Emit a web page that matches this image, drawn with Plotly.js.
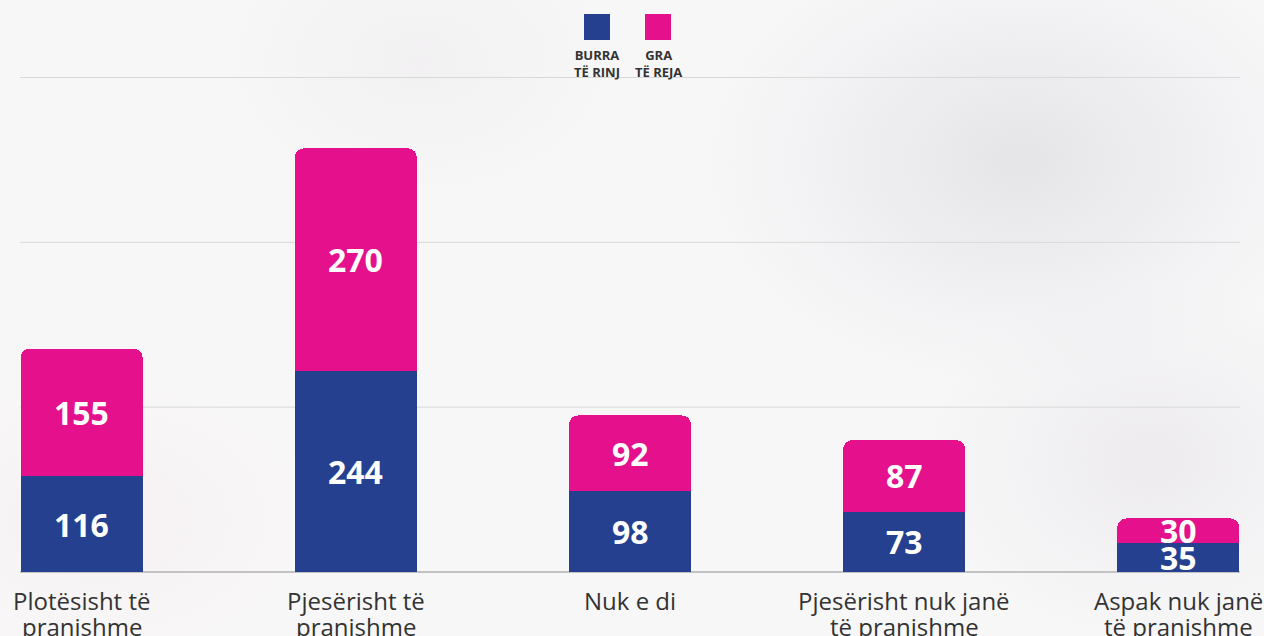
<!DOCTYPE html>
<html>
<head>
<meta charset="utf-8">
<script src="https://cdn.plot.ly/plotly-3.0.1.min.js"></script>
<style>
html,body{margin:0;padding:0;width:1264px;height:636px;overflow:hidden;
background:
 radial-gradient(ellipse 420px 300px at 1020px 160px, rgba(226,226,230,0.85), rgba(255,255,255,0) 75%),
 radial-gradient(ellipse 300px 240px at 1150px 460px, rgba(232,230,233,0.7), rgba(255,255,255,0) 75%),
 radial-gradient(ellipse 260px 180px at 420px 60px, rgba(236,234,236,0.5), rgba(255,255,255,0) 75%),
 radial-gradient(ellipse 300px 200px at 100px 520px, rgba(246,238,238,0.6), rgba(255,255,255,0) 75%),
 #f8f7f8;}
#chart{width:1264px;height:636px;}
</style>
</head>
<body>
<div id="chart"></div>
<script>
const categories = ["Plotësisht të<br>pranishme", "Pjesërisht të<br>pranishme", "Nuk e di", "Pjesërisht nuk janë<br>të pranishme", "Aspak nuk janë<br>të pranishme"];
const burraTeRinj = [116, 244, 98, 73, 35];
const graTeReja = [155, 270, 92, 87, 30];
const seriesNames = ["BURRA<br>TË RINJ", "GRA<br>TË REJA"];
const gridValues = [0, 200, 400, 600];
const colors = ["#25408f", "#e5108c"];

const xIdx = categories.map((c, i) => i);
const barW = 0.445;

const traces = [
  {type: "bar", x: xIdx, y: burraTeRinj, name: seriesNames[0], marker: {color: colors[0]},
   width: barW, hoverinfo: "y", textposition: "none"},
  {type: "bar", x: xIdx, y: graTeReja, name: seriesNames[1], marker: {color: colors[1]},
   width: barW, hoverinfo: "y", textposition: "none"}
];

const labelFont = {family: "Open Sans, sans-serif", size: 32, color: "#ffffff", weight: 700};
const annotations = [];
xIdx.forEach(i => {
  annotations.push({x: i, y: burraTeRinj[i] / 2, xref: "x", yref: "y", text: "<b>" + burraTeRinj[i] + "</b>",
    showarrow: false, font: labelFont, xanchor: "center", yanchor: "middle"});
  annotations.push({x: i, y: burraTeRinj[i] + graTeReja[i] / 2, xref: "x", yref: "y", text: "<b>" + graTeReja[i] + "</b>",
    showarrow: false, font: labelFont, xanchor: "center", yanchor: "middle"});
});
xIdx.forEach(i => {
  categories[i].split("<br>").forEach((line, j) => {
    annotations.push({x: i, y: 0, xref: "x", yref: "paper", text: line, showarrow: false,
      xanchor: "center", yanchor: "middle", yshift: -(28 + 26 * j),
      font: {family: "Open Sans, sans-serif", size: 24, color: "#333333"}});
  });
});
annotations.push({xref: "paper", yref: "paper", x: 0.4730, y: 1.0666, yanchor: "top", xanchor: "center", showarrow: false,
  text: "<b>" + seriesNames[0] + "</b>", font: {family: "Open Sans, sans-serif", size: 13, color: "#333333"}, align: "center"});
annotations.push({xref: "paper", yref: "paper", x: 0.5230, y: 1.0666, yanchor: "top", xanchor: "center", showarrow: false,
  text: "<b>" + seriesNames[1] + "</b>", font: {family: "Open Sans, sans-serif", size: 13, color: "#333333"}, align: "center"});

const shapes = [
  {type: "rect", xref: "paper", yref: "paper", x0: 0.4623, x1: 0.4836, y0: 1.0747, y1: 1.1273, fillcolor: colors[0], line: {width: 0}},
  {type: "rect", xref: "paper", yref: "paper", x0: 0.5123, x1: 0.5336, y0: 1.0747, y1: 1.1273, fillcolor: colors[1], line: {width: 0}}
];
gridValues.filter(v => v > 0).forEach(v => {
  shapes.push({type: "line", xref: "paper", yref: "y", x0: 0, x1: 1, y0: v, y1: v, layer: "below",
    line: {color: "#d9d9d9", width: 1}});
});

const layout = {
  width: 1264, height: 636,
  margin: {l: 20, r: 24, t: 77, b: 64},
  paper_bgcolor: "rgba(0,0,0,0)", plot_bgcolor: "rgba(0,0,0,0)",
  barmode: "stack", barcornerradius: 9,
  showlegend: false,
  font: {family: "Open Sans, sans-serif", color: "#333333"},
  xaxis: {
    range: [-0.225, 4.225], showticklabels: false, showgrid: false, zeroline: false,
    showline: false, ticks: "", fixedrange: true
  },
  yaxis: {
    range: [0, 600.6], tickvals: gridValues, showticklabels: false, showgrid: false,
    zeroline: true, zerolinecolor: "#c2c2c2", zerolinewidth: 1.5, fixedrange: true
  },
  shapes: shapes,
  annotations: annotations
};

Plotly.newPlot("chart", traces, layout, {displayModeBar: false, responsive: false});
</script>
</body>
</html>
